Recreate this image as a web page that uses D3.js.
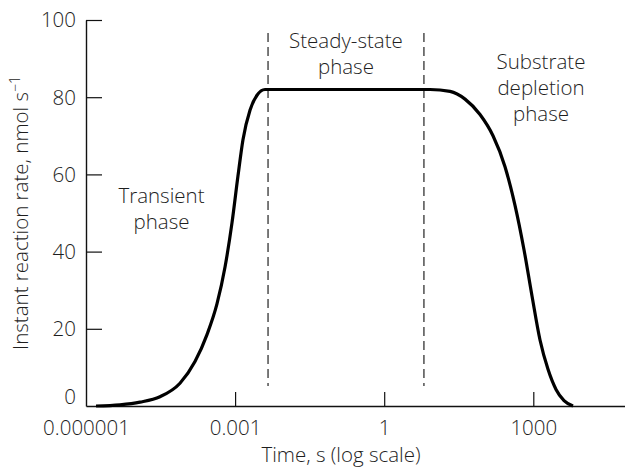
<!DOCTYPE html>
<html>
<head>
<meta charset="utf-8">
<script src="https://cdn.jsdelivr.net/npm/d3@7"></script>
<style>
  html, body { margin: 0; padding: 0; background: #fff; }
  svg text { font-family: "Open Sans", sans-serif; font-weight: 300; fill: #1e1e1e; }
</style>
</head>
<body>
<svg id="chart" width="625" height="468"></svg>
<script>
// ---- data ----
const times = [1.59e-6, 4.83e-6, 1.22e-5, 3.08e-5, 7.78e-5, 1.56e-4, 2.72e-4, 4.33e-4,
               6.27e-4, 8.67e-4, 1.14e-3, 1.44e-3, 2.0e-3, 2.76e-3, 4.0e-3,
               0.1, 8.36, 21.1, 42.3, 84.7, 154.6, 269.6, 428.5, 650, 942, 1365,
               1977, 2864, 4150, 6295];
const rates = [0, 0.3, 1.0, 2.4, 5.9, 11.5, 18.5, 26.5,
               36, 47.5, 59.5, 69, 76.7, 80.5, 82,
               82, 82, 81.5, 79.5, 75.5, 70, 62, 52, 40.5, 28.5, 17.1,
               9.5, 4.3, 1.4, 0];
const xTickValues = [0.000001, 0.001, 1, 1000];
const xTickLabels = ["0.000001", "0.001", "1", "1000"];
const yTickValues = [0, 20, 40, 60, 80, 100];
const phaseBoundaries = [4.6e-3, 6.3];
const xTitle = "Time, s (log scale)";
const yTitle = "Instant reaction rate, nmol s";
const yTitleSup = "\u22121";
const phaseLabels = [
  { lines: ["Transient", "phase"], t: 3.3e-5, v: 52.6 },
  { lines: ["Steady-state", "phase"], t: 0.17, v: 92.7 },
  { lines: ["Substrate", "depletion", "phase"], t: 1430, v: 87.2 }
];

// ---- chart ----
const svg = d3.select("#chart");
const x = d3.scaleLog().domain([1e-6, 7e4]).range([86, 625]);
const y = d3.scaleLinear().domain([0, 100]).range([406, 20]);

// dashed phase boundaries
svg.selectAll("line.phase").data(phaseBoundaries).join("line")
  .attr("class", "phase")
  .attr("x1", d => x(d)).attr("x2", d => x(d))
  .attr("y1", 33).attr("y2", 386)
  .attr("stroke", "#333").attr("stroke-width", 1.3)
  .attr("stroke-dasharray", "9,5");

// axes
const xAxis = d3.axisBottom(x).tickValues(xTickValues)
  .tickFormat((d, i) => xTickLabels[i]).tickSizeInner(-14).tickSizeOuter(0).tickPadding(14);
const gx = svg.append("g").attr("transform", `translate(0,${y(0)})`).call(xAxis);
gx.select(".domain").attr("stroke", "#111").attr("stroke-width", 1.4);
gx.selectAll(".tick line").attr("stroke", "#111").attr("stroke-width", 1.2);
gx.selectAll(".tick text").attr("font-size", 20.5).attr("dy", 0).attr("y", 29)
  .style("font-family", "'Open Sans', sans-serif").style("font-weight", 300).attr("fill", "#1e1e1e");
gx.selectAll(".tick").filter(d => d === 1e-6).select("line").remove();

const yAxis = d3.axisLeft(y).tickValues(yTickValues).tickSizeInner(-16).tickSizeOuter(0).tickPadding(10);
const gy = svg.append("g").attr("transform", `translate(${x(1e-6)},0)`).call(yAxis);
gy.select(".domain").attr("stroke", "#111").attr("stroke-width", 1.4);
gy.selectAll(".tick line").attr("stroke", "#111").attr("stroke-width", 1.2);
gy.selectAll(".tick").filter(d => d === 0).select("line").remove();
gy.selectAll(".tick text").attr("font-size", 20.5)
  .style("font-family", "'Open Sans', sans-serif").style("font-weight", 300).attr("fill", "#1e1e1e")
  .attr("dy", d => d === 0 ? "-0.1em" : "0.34em");

// curve
const pts = times.map((t, i) => [t, rates[i]]);
svg.append("path").datum(pts)
  .attr("fill", "none").attr("stroke", "#000").attr("stroke-width", 3.2)
  .attr("stroke-linejoin", "round")
  .attr("d", d3.line().x(d => x(d[0])).y(d => y(d[1])).curve(d3.curveMonotoneX));

// phase labels
phaseLabels.forEach(p => {
  const t = svg.append("text").attr("text-anchor", "middle").attr("font-size", 20.5);
  p.lines.forEach((s, i) => {
    t.append("tspan").attr("x", x(p.t)).attr("y", y(p.v) + i * 26).text(s);
  });
});

// axis titles
svg.append("text").attr("text-anchor", "middle").attr("font-size", 20.5)
  .attr("x", 341).attr("y", 462).text(xTitle);
const yt = svg.append("text").attr("text-anchor", "middle").attr("font-size", 20.5)
  .attr("transform", "translate(28,213) rotate(-90)");
yt.append("tspan").text(yTitle);
yt.append("tspan").attr("font-size", 14).attr("dy", -8).text(yTitleSup);
</script>
</body>
</html>
